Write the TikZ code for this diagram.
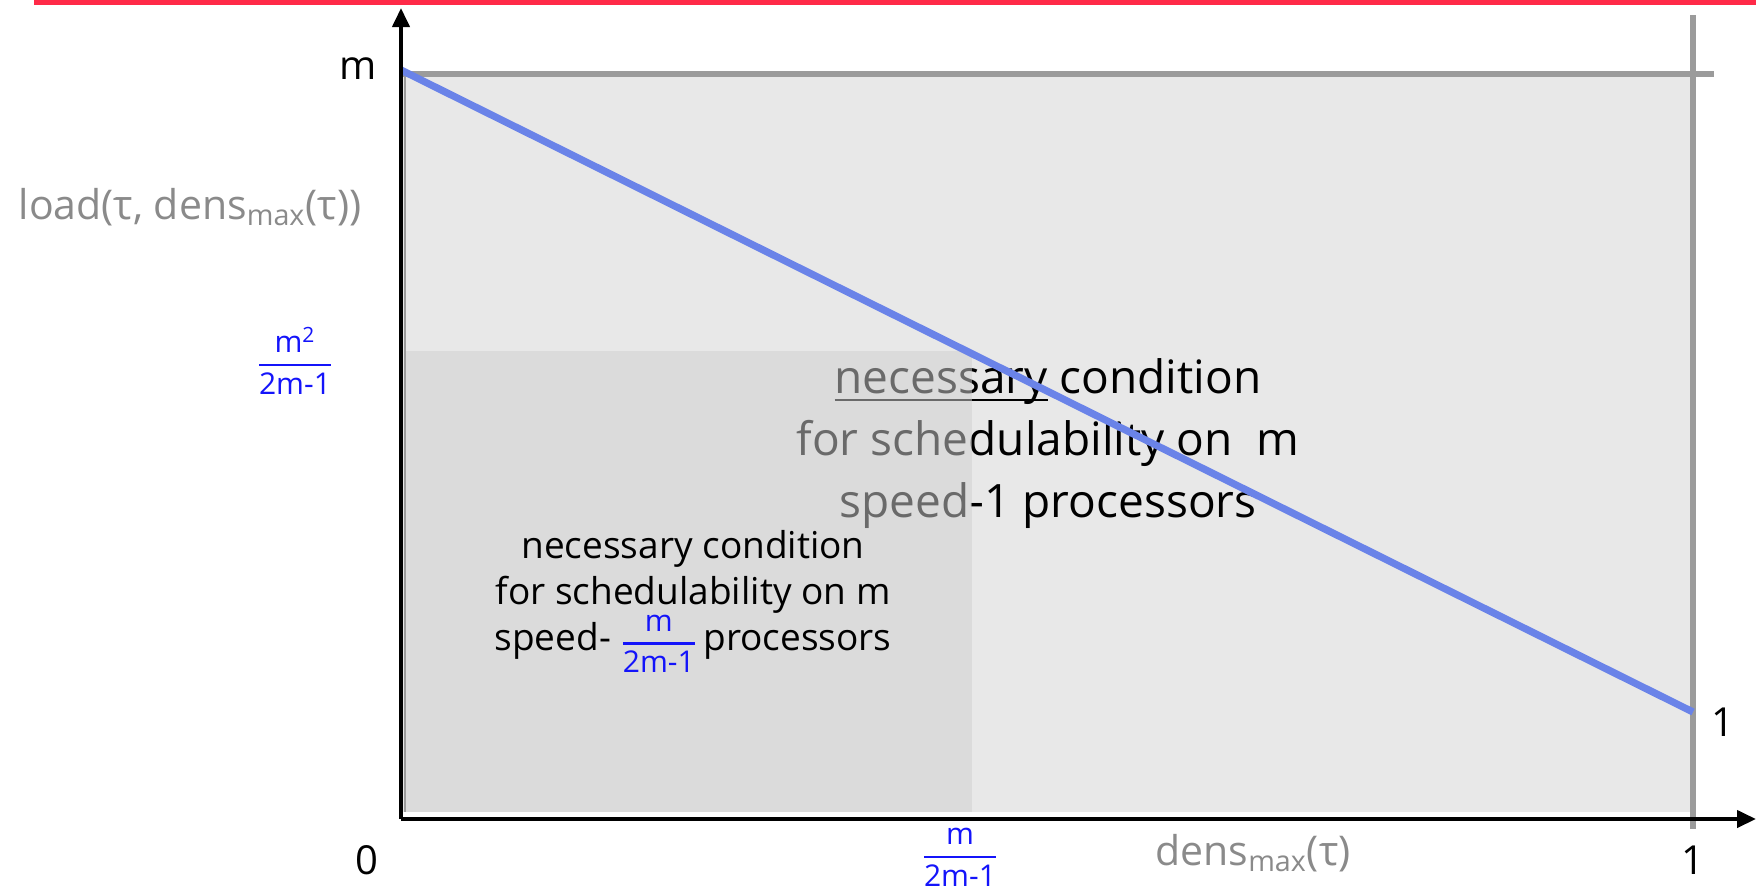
\documentclass[tikz,border=0pt]{standalone}
\usepackage{fontspec}
\usepackage{amsmath}
\setmainfont{Open Sans}
\usetikzlibrary{arrows.meta}
\definecolor{redbar}{RGB}{255,42,72}
\definecolor{lightbg}{RGB}{232,232,232}
\definecolor{overlaygray}{RGB}{208,208,208}
\definecolor{framegray}{RGB}{155,155,155}
\definecolor{slopeblue}{RGB}{106,131,232}
\definecolor{fracblue}{RGB}{20,20,250}
\definecolor{labelgray}{RGB}{138,138,138}
\newcommand{\bfr}[2]{{\color{fracblue}$\genfrac{}{}{1.1pt}{0}{\mbox{#1}}{\mbox{#2}}$}}
\newcommand{\myul}[1]{\setbox0\hbox{#1}\rlap{\rule[-3.6pt]{\wd0}{1.2pt}}\box0\relax}
\begin{document}
\begin{tikzpicture}[x=0.5pt,y=-0.5pt,
  axisline/.style={line width=2pt,-{Triangle[length=9.5pt,width=8.5pt]}},
  frameline/.style={draw=framegray,line width=3pt},
  lbl/.style={inner sep=0pt,font=\fontsize{20}{24}\selectfont},
  glbl/.style={inner sep=0pt,text=labelgray,font=\fontsize{20.5}{24}\selectfont},
  fraclbl/.style={inner sep=0pt,font=\fontsize{15}{18}\selectfont},
  bigtxt/.style={inner sep=0pt,align=center,font=\fontsize{23}{31}\selectfont},
  smalltxt/.style={inner sep=0pt,align=center,font=\fontsize{18.5}{23}\selectfont}]
\useasboundingbox (0,0) rectangle (1756,890);
% red bar at top
\fill[redbar] (34,0) rectangle (1756,5);
% light region
\fill[lightbg] (401,74) rectangle (1693,812);
% big text (partly covered by the overlay)
\node[bigtxt] (big) at (1048,444) {\myul{necessary} condition\\for schedulability on\ \ m\\speed-1 processors};
% darker overlay region
\fill[overlaygray,fill opacity=0.51] (405,351) rectangle (972,812);
% small text
\node[smalltxt] (small) at (693,595) {necessary condition\\for schedulability on m\\speed- \smash{\fontsize{15}{18}\selectfont\bfr{m}{2m-1}}\,processors};
% frame lines
\coordinate (TL) at (401,74);
\coordinate (TR) at (1714,74);
\coordinate (VT) at (1693,15);
\coordinate (VB) at (1693,829);
\coordinate (LT) at (405,74);
\coordinate (LB) at (405,812);
\draw[draw=framegray,line width=1.2pt] (LT) -- (LB);
\draw[frameline] (TL) -- (TR);
\draw[frameline] (VT) -- (VB);
% blue slope
\coordinate (P0) at (401,70);
\coordinate (P1) at (1693,712);
\draw[slopeblue,line width=3.6pt] (P0) -- (P1);
% axes
\coordinate (O) at (401,819);
\coordinate (Ytop) at (401,8);
\coordinate (Xend) at (1756,819);
\draw[axisline] (O) -- (Ytop);
\draw[axisline] (O) -- (Xend);
% labels
\node[lbl] (mlab) at (358,69) {m};
\node[lbl] (zero) at (367,860) {0};
\node[lbl] (oneR) at (1723,722) {1};
\node[lbl] (oneB) at (1693,860) {1};
\node[glbl] (ylab) at (190,207) {load(τ, dens\textsubscript{max}(τ))};
\node[glbl] (xlab) at (1253,853) {dens\textsubscript{max}(τ)};
\node[fraclbl] (yfrac) at (295,361) {\bfr{m\textsuperscript{2}}{2m-1}};
\node[fraclbl] (xfrac) at (960,857) {\bfr{m}{2m-1}};
\end{tikzpicture}
\end{document}
